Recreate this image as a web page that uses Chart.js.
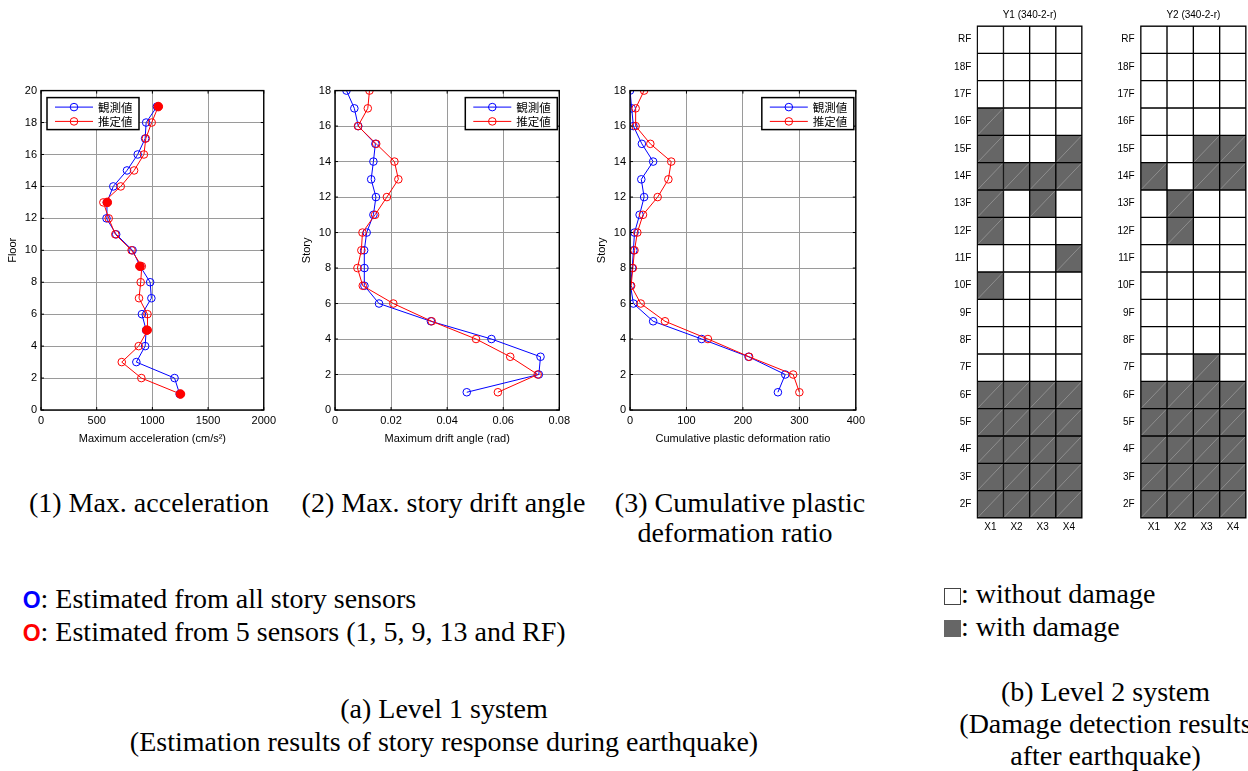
<!DOCTYPE html>
<html>
<head>
<meta charset="utf-8">
<script src="https://cdn.jsdelivr.net/npm/chart.js@4.4.0/dist/chart.umd.min.js"></script>
<style>
  html, body { margin: 0; padding: 0; background: #fff; }
  body { width: 1248px; height: 771px; overflow: hidden; position: relative; }
  canvas { position: absolute; }
  .txt { position: absolute; font: 28px "Liberation Serif", "Times New Roman", serif; line-height: 28px; color: #000; white-space: nowrap; }
  .mid { transform: translateX(-50%); }
  .mk { font: bold 23px "Liberation Sans", Arial, sans-serif; }
  .sq { display: inline-block; width: 17px; height: 17px; box-sizing: border-box; vertical-align: -1.5px; }
  .sq.off { background: #fff; border: 1px solid #444; }
  .sq.on { background: #666; }
</style>
</head>
<body>
<canvas id="acc" width="280" height="370" style="left:0px;top:80px"></canvas>
<canvas id="drift" width="280" height="370" style="left:294px;top:80px"></canvas>
<canvas id="cpd" width="280" height="370" style="left:589px;top:80px"></canvas>
<canvas id="gridY1" width="150" height="540" style="left:940px;top:0px"></canvas>
<canvas id="gridY2" width="145" height="540" style="left:1103px;top:0px"></canvas>

<div class="txt mid" style="left:149px;top:488.5px">(1) Max. acceleration</div>
<div class="txt mid" style="left:443.5px;top:488.5px">(2) Max. story drift angle</div>
<div class="txt mid" style="left:740px;top:488.5px">(3) Cumulative plastic</div>
<div class="txt mid" style="left:735px;top:519px">deformation ratio</div>

<div class="txt" style="left:22.7px;top:585px"><span class="mk" style="color:#0000ff">O</span>: Estimated from all story sensors</div>
<div class="txt" style="left:22.7px;top:617.5px"><span class="mk" style="color:#ff0000">O</span>: Estimated from 5 sensors (1, 5, 9, 13 and RF)</div>

<div class="txt mid" style="left:444px;top:694.5px">(a) Level 1 system</div>
<div class="txt mid" style="left:444px;top:727.5px">(Estimation results of story response during earthquake)</div>

<div class="txt" style="left:944px;top:580px"><span class="sq off"></span>: without damage</div>
<div class="txt" style="left:944px;top:612.5px"><span class="sq on"></span>: with damage</div>

<div class="txt mid" style="left:1105.5px;top:677.5px">(b) Level 2 system</div>
<div class="txt mid" style="left:1105.5px;top:709.5px">(Damage detection results</div>
<div class="txt mid" style="left:1105.5px;top:741.5px">after earthquake)</div>

<script>
// floors 1..19 (19 = RF) for acceleration, stories 1..18 for the others
const floors = [1, 2, 3, 4, 5, 6, 7, 8, 9, 10, 11, 12, 13, 14, 15, 16, 17, 18, 19];
const stories = [1, 2, 3, 4, 5, 6, 7, 8, 9, 10, 11, 12, 13, 14, 15, 16, 17, 18];

const accObserved = [1245, 1199, 856, 935, 944, 906, 991, 980, 890, 822, 675, 588, 592, 649, 772, 868, 935, 944, 1041];
const accEstimated = [1252, 901, 725, 877, 958, 956, 880, 895, 905, 813, 667, 608, 560, 716, 836, 924, 941, 994, 1053];
const sensorFloors = [1, 5, 9, 13, 19];
const accSensor = [1252, 950, 888, 595, 1053];

const driftObserved = [0.0470, 0.0727, 0.0733, 0.0558, 0.0342, 0.0157, 0.0105, 0.0105, 0.0104, 0.0113, 0.0137, 0.0146, 0.0129, 0.0137, 0.0144, 0.0083, 0.0069, 0.0041];
const driftEstimated = [0.0581, 0.0723, 0.0625, 0.0503, 0.0345, 0.0208, 0.0099, 0.0080, 0.0094, 0.0098, 0.0143, 0.0185, 0.0226, 0.0212, 0.0147, 0.0082, 0.0117, 0.0123];

const cpdObserved = [262, 275, 210, 127, 41, 6, 1, 4, 6, 8, 17, 25, 20, 41, 21, 6, 3, 0];
const cpdEstimated = [300, 289, 211, 138, 62, 19, 2, 5, 8, 13, 23, 49, 68, 73, 36, 10, 10, 25];

const legendLabels = ['観測値', '推定値'];

// damage grid, rows from bottom (2F) to top (RF), columns X1..X4
const floorLabels = ['2F', '3F', '4F', '5F', '6F', '7F', '8F', '9F', '10F', '11F', '12F', '13F', '14F', '15F', '16F', '17F', '18F', 'RF'];
const columns = ['X1', 'X2', 'X3', 'X4'];
const damageY1 = [
  [1, 1, 1, 1], [1, 1, 1, 1], [1, 1, 1, 1], [1, 1, 1, 1], [1, 1, 1, 1],
  [0, 0, 0, 0], [0, 0, 0, 0], [0, 0, 0, 0],
  [1, 0, 0, 0], [0, 0, 0, 1], [1, 0, 0, 0], [1, 0, 1, 0],
  [1, 1, 1, 1], [1, 0, 0, 1], [1, 0, 0, 0],
  [0, 0, 0, 0], [0, 0, 0, 0], [0, 0, 0, 0]
];
const damageY2 = [
  [1, 1, 1, 1], [1, 1, 1, 1], [1, 1, 1, 1], [1, 1, 1, 1], [1, 1, 1, 1],
  [0, 0, 1, 0], [0, 0, 0, 0], [0, 0, 0, 0],
  [0, 0, 0, 0], [0, 0, 0, 0], [0, 1, 0, 0], [0, 1, 0, 0],
  [1, 0, 1, 1], [0, 0, 1, 1], [0, 0, 0, 0],
  [0, 0, 0, 0], [0, 0, 0, 0], [0, 0, 0, 0]
];

const BLUE = '#0000ff';
const RED = '#ff0000';
const DMG = '#666666';
const tickFont = { family: 'Liberation Sans, Arial, sans-serif', size: 11 };
const gridFont = { family: 'Liberation Sans, Arial, sans-serif', size: 10, weight: 'normal' };

// box around the plot area with small inner tick marks
const axesBox = {
  id: 'axesBox',
  afterDatasetsDraw(chart, args, opts) {
    const { ctx, chartArea: a, scales } = chart;
    ctx.save();
    ctx.strokeStyle = '#000';
    ctx.lineWidth = opts.width || 1;
    ctx.strokeRect(a.left, a.top, a.right - a.left, a.bottom - a.top);
    if (opts.inner) {
      ctx.lineWidth = 1;
      ctx.beginPath();
      scales.x.ticks.forEach(t => {
        const px = scales.x.getPixelForValue(t.value);
        ctx.moveTo(px, a.bottom); ctx.lineTo(px, a.bottom - 3);
        ctx.moveTo(px, a.top); ctx.lineTo(px, a.top + 3);
      });
      scales.y.ticks.forEach(t => {
        const py = scales.y.getPixelForValue(t.value);
        ctx.moveTo(a.left, py); ctx.lineTo(a.left + 3, py);
        ctx.moveTo(a.right, py); ctx.lineTo(a.right - 3, py);
      });
      ctx.stroke();
    }
    ctx.restore();
  }
};

// MATLAB style legend box inside the axes
const boxLegend = {
  id: 'boxLegend',
  afterDraw(chart, args, opts) {
    if (!opts.side) return;
    const { ctx, chartArea: a } = chart;
    const items = chart.data.datasets.filter(d => d.label);
    const w = 92, h = 32;
    const bx = opts.side === 'left' ? a.left + 6 : a.right - 2 - w;
    const by = a.top + 7;
    ctx.save();
    ctx.fillStyle = '#fff';
    ctx.fillRect(bx, by, w, h);
    ctx.strokeStyle = '#000';
    ctx.lineWidth = 1.5;
    ctx.strokeRect(bx, by, w, h);
    items.forEach((d, k) => {
      const cy = by + 9.5 + k * 14.3;
      ctx.strokeStyle = d.borderColor;
      ctx.lineWidth = 1;
      ctx.beginPath();
      ctx.moveTo(bx + 8, cy); ctx.lineTo(bx + 46, cy);
      ctx.stroke();
      ctx.beginPath();
      ctx.arc(bx + 27, cy, 3.8, 0, Math.PI * 2);
      ctx.stroke();
      ctx.fillStyle = '#000';
      ctx.font = '11.5px "Noto Sans CJK JP", sans-serif';
      ctx.textBaseline = 'middle';
      ctx.fillText(d.label, bx + 51, cy + 0.5);
    });
    ctx.restore();
  }
};

// thin diagonal in each damaged cell
const cellDiag = {
  id: 'cellDiag',
  afterDatasetsDraw(chart) {
    const { ctx } = chart;
    const ds = chart.data.datasets[0];
    const meta = chart.getDatasetMeta(0);
    ctx.save();
    ctx.strokeStyle = '#a8a8a8';
    ctx.lineWidth = 0.6;
    ctx.beginPath();
    meta.data.forEach((bar, i) => {
      if (!ds.damaged[i]) return;
      const { x, y, base, width } = bar.getProps(['x', 'y', 'base', 'width'], true);
      ctx.moveTo(x - width / 2 + 1, base - 1);
      ctx.lineTo(x + width / 2 - 1, y + 1);
    });
    ctx.stroke();
    ctx.restore();
  }
};

function line(label, xs, ys, color, order) {
  return {
    label: label,
    data: ys.map((y, i) => ({ x: xs[i], y: y })),
    showLine: true,
    borderColor: color,
    borderWidth: 1,
    backgroundColor: 'transparent',
    pointStyle: 'circle',
    pointRadius: 3.8,
    pointBorderWidth: 1,
    pointBorderColor: color,
    pointBackgroundColor: 'rgba(255,255,255,0)',
    order: order
  };
}

function profileChart(id, datasets, x, y, side) {
  return new Chart(document.getElementById(id), {
    type: 'scatter',
    data: { datasets: datasets },
    options: {
      responsive: false,
      animation: false,
      layout: { padding: { top: 9, right: 11, left: 0, bottom: 0 } },
      plugins: {
        legend: { display: false },
        tooltip: { enabled: false },
        boxLegend: { side: side },
        axesBox: { inner: true, width: 1.4 }
      },
      scales: {
        x: {
          type: 'linear', min: x.min, max: x.max,
          ticks: { stepSize: x.step, font: tickFont, color: '#000', padding: 4, maxRotation: 0, format: { useGrouping: false } },
          grid: { color: '#9a9a9a', drawTicks: false },
          border: { display: false },
          title: { display: true, text: x.title, font: tickFont, color: '#000', padding: { top: 0, bottom: 4 } },
          afterFit: s => { s.height = 40; }
        },
        y: {
          type: 'linear', min: y.min, max: y.max,
          ticks: { stepSize: 2, font: tickFont, color: '#000', padding: 4 },
          grid: { color: '#9a9a9a', drawTicks: false },
          border: { display: false },
          title: { display: true, text: y.title, font: tickFont, color: '#000', padding: { top: 6, bottom: 0 } },
          afterFit: s => { s.width = 41; }
        }
      }
    },
    plugins: [axesBox, boxLegend]
  });
}

// (1) Max. acceleration
profileChart('acc', [
  line(legendLabels[0], accObserved, floors, BLUE, 2),
  line(legendLabels[1], accEstimated, floors, RED, 1),
  {
    data: accSensor.map((v, i) => ({ x: v, y: sensorFloors[i] })),
    showLine: false,
    pointRadius: 4.3,
    pointBackgroundColor: RED,
    pointBorderColor: RED,
    order: 0
  }
], { min: 0, max: 2000, step: 500, title: 'Maximum acceleration (cm/s²)' },
   { min: 0, max: 20, title: 'Floor' }, 'left');

// (2) Max. story drift angle
profileChart('drift', [
  line(legendLabels[0], driftObserved, stories, BLUE, 2),
  line(legendLabels[1], driftEstimated, stories, RED, 1)
], { min: 0, max: 0.08, step: 0.02, title: 'Maximum drift angle (rad)' },
   { min: 0, max: 18, title: 'Story' }, 'right');

// (3) Cumulative plastic deformation ratio
profileChart('cpd', [
  line(legendLabels[0], cpdObserved, stories, BLUE, 2),
  line(legendLabels[1], cpdEstimated, stories, RED, 1)
], { min: 0, max: 400, step: 100, title: 'Cumulative plastic deformation ratio' },
   { min: 0, max: 18, title: 'Story' }, 'right');

// damage detection grids
function damageChart(id, title, damage, yWidth, rightPad) {
  const cells = [];
  damage.forEach((row, i) => {
    row.forEach((d, c) => cells.push({ x: columns[c], y: [i, i + 1], d: d }));
  });
  return new Chart(document.getElementById(id), {
    type: 'bar',
    data: {
      labels: columns,
      datasets: [{
        data: cells.map(c => ({ x: c.x, y: c.y })),
        damaged: cells.map(c => c.d),
        backgroundColor: cells.map(c => c.d ? DMG : '#ffffff'),
        borderColor: '#000',
        borderWidth: 1,
        borderSkipped: false,
        categoryPercentage: 1,
        barPercentage: 1
      }]
    },
    options: {
      responsive: false,
      animation: false,
      layout: { padding: { top: 0, right: rightPad, left: 0, bottom: 0 } },
      plugins: {
        legend: { display: false },
        tooltip: { enabled: false },
        title: { display: true, text: title, fullSize: false, font: { family: gridFont.family, size: 10, weight: 'normal' }, color: '#000', padding: { top: 9, bottom: 5 } },
        axesBox: { inner: false, width: 1 }
      },
      scales: {
        x: {
          type: 'category',
          ticks: { font: gridFont, color: '#000', padding: 3 },
          grid: { display: false, drawTicks: false },
          border: { display: false },
          afterFit: s => { s.height = 22; }
        },
        y: {
          type: 'linear', min: 0, max: floorLabels.length,
          afterBuildTicks: s => { s.ticks = floorLabels.map((f, i) => ({ value: i + 0.5 })); },
          ticks: { font: gridFont, color: '#000', padding: 6, autoSkip: false, callback: v => floorLabels[Math.floor(v)] },
          grid: { display: false, drawTicks: false },
          border: { display: false },
          afterFit: s => { s.width = yWidth; }
        }
      }
    },
    plugins: [cellDiag, axesBox]
  });
}

damageChart('gridY1', 'Y1 (340-2-r)', damageY1, 37.3, 8);
damageChart('gridY2', 'Y2 (340-2-r)', damageY2, 37.7, 2);
</script>
</body>
</html>
